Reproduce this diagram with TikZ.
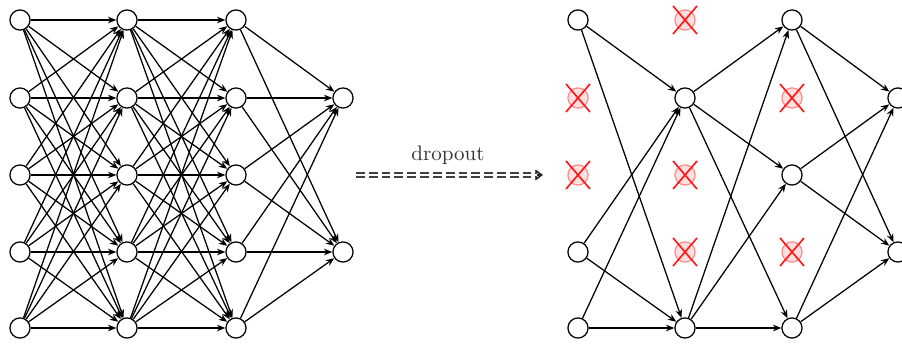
\documentclass[tikz,border=0pt]{standalone}
\usetikzlibrary{arrows.meta,calc}
\begin{document}
\begin{tikzpicture}[x=0.476pt,y=-0.476pt,
  neuron/.style={circle,draw,fill=white,minimum size=9.6pt,inner sep=0pt,line width=0.6pt},
  dropn/.style={circle,draw=red!45,fill=red!12,minimum size=9.6pt,inner sep=0pt,line width=0.6pt},
  xmark/.style={draw=red!90,line width=0.8pt},
  edge/.style={-{Stealth[length=4pt,width=3.2pt]},line width=0.6pt}]
\useasboundingbox (0,0) rectangle (902,344);
% ---------- left network ----------
\foreach \l/\x in {1/20,2/127,3/236}{
  \foreach \r/\y in {1/20,2/98,3/175,4/252,5/328}{
    \node[neuron] (A\l\r) at (\x,\y) {};
  }
}
\node[neuron] (A41) at (343,98) {};
\node[neuron] (A42) at (343,252) {};
\foreach \i in {1,...,5}{
  \foreach \j in {1,...,5}{
    \draw[edge] (A1\i) -- (A2\j);
    \draw[edge] (A2\i) -- (A3\j);
  }
  \draw[edge] (A3\i) -- (A41);
  \draw[edge] (A3\i) -- (A42);
}
% ---------- dropout arrow ----------
\coordinate (s) at (356,175);
\coordinate (e) at (543,175);
\draw[double=white,double distance=1.3pt,line width=0.55pt,dash pattern=on 4.2pt off 1.9pt,draw=black!75] (s) -- ($(e)+(-6,0)$);
\draw[-{Straight Barb[length=3pt,width=4.5pt]},line width=0.8pt,draw=black!85] ($(e)+(-6,0)$) -- (e);
\node[font=\normalsize,text=black!80] (lab) at (448,155) {dropout};
% ---------- right network ----------
\node[neuron] (B11) at (578,20) {};
\node[dropn] (B12) at (578,98) {};
\node[dropn] (B13) at (578,175) {};
\node[neuron] (B14) at (578,252) {};
\node[neuron] (B15) at (578,328) {};
\node[dropn] (B21) at (685,20) {};
\node[neuron] (B22) at (685,98) {};
\node[dropn] (B23) at (685,175) {};
\node[dropn] (B24) at (685,252) {};
\node[neuron] (B25) at (685,328) {};
\node[neuron] (B31) at (792,20) {};
\node[dropn] (B32) at (792,98) {};
\node[neuron] (B33) at (792,175) {};
\node[dropn] (B34) at (792,252) {};
\node[neuron] (B35) at (792,328) {};
\node[neuron] (B41) at (898,98) {};
\node[neuron] (B42) at (898,252) {};
\foreach \a in {1,4,5}{
  \foreach \b in {2,5}{ \draw[edge] (B1\a) -- (B2\b); }
}
\foreach \a in {2,5}{
  \foreach \b in {1,3,5}{ \draw[edge] (B2\a) -- (B3\b); }
}
\foreach \a in {1,3,5}{
  \foreach \b in {1,2}{ \draw[edge] (B3\a) -- (B4\b); }
}
\foreach \d in {B12,B13,B21,B23,B24,B32,B34}{
  \draw[xmark] ($(\d.center)+(-12,-14)$) -- ($(\d.center)+(12,14)$);
  \draw[xmark] ($(\d.center)+(-12,14)$) -- ($(\d.center)+(12,-14)$);
}
\end{tikzpicture}
\end{document}
